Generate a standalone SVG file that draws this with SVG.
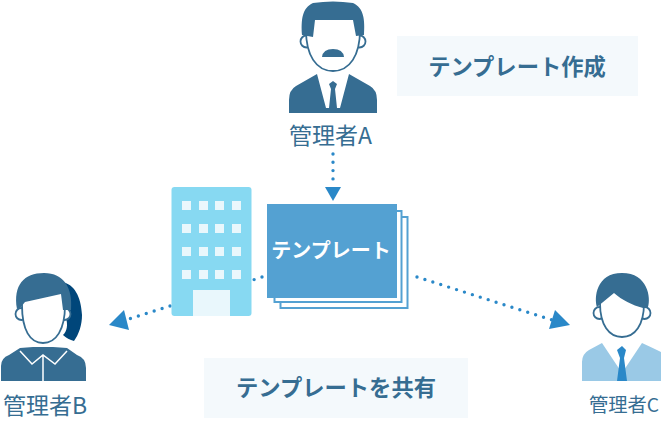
<svg xmlns="http://www.w3.org/2000/svg" width="661" height="421" viewBox="0 0 661 421">
<style>
.d{fill:#366d92}
.f{fill:#fff;stroke:#366d92;stroke-width:1.800}
.w{fill:#fff}
.n{font-family:"Noto Sans CJK JP","Noto Sans",sans-serif;fill:#366d92}
.l{font-family:"Noto Sans CJK JP","Noto Sans",sans-serif;font-weight:700;fill:#366d92;font-size:22.300px;text-anchor:middle}
.b{fill:#f4f9fc}
.c{fill:none;stroke:#2a88c8;stroke-width:3.400;stroke-linecap:round;stroke-dasharray:0 8.300}
.h{fill:#2a88c8}
.win{fill:#e9f7fc}
</style>
<g id="label-create"><rect class="b" x="397" y="36" width="241" height="60"/><text class="l" x="517" y="75">テンプレート作成</text></g>
<g id="label-share"><rect class="b" x="204" y="358" width="264" height="60"/><text class="l" x="336" y="396">テンプレートを共有</text></g>
<g id="connectors">
<path class="c" d="M333 154V186"/><path class="h" d="M325 187H341L333 201Z"/>
<path class="c" d="M262 277L253 280M170 306L129 319"/><path class="h" d="M109 325L124 310L129 330Z"/>
<path class="c" d="M417 277L552 320"/><path class="h" d="M570 325L555 310L549 329Z"/>
</g>
<g id="manager-a">
<path class="d" d="M317 74L296 86Q289 90 289 100V113H377V100Q377 90 370 86L349 74L340 108H326Z"/>
<path class="d" d="M329 84L333 81L337 84L335 89L337 108H329L331 89Z"/>
<circle class="f" cx="306.500" cy="41.500" r="6"/><circle class="f" cx="359.500" cy="41.500" r="6"/>
<path class="f" d="M306 30C306 55 316 71 333 71C350 71 360 55 360 30V15H306Z"/>
<path class="d" d="M313 37L302 35C301 20 302 8 313 3Q333 0 353 3C364 8 365 20 364 35L356 36L353 20H315Z"/>
<path class="d" d="M322 57Q323 49 333 49Q343 49 344 57Z"/>
<text class="n" x="289" y="144" font-size="23">管理者A</text>
</g>
<g id="building">
<rect x="171.500" y="187" width="80" height="129" rx="3" fill="#87d9f2"/>
<g class="win"><rect x="182" y="201" width="9" height="9"/><rect x="199" y="201" width="9" height="9"/><rect x="215" y="201" width="9" height="9"/><rect x="232" y="201" width="9" height="9"/>
<rect x="182" y="224" width="9" height="9"/><rect x="199" y="224" width="9" height="9"/><rect x="215" y="224" width="9" height="9"/><rect x="232" y="224" width="9" height="9"/>
<rect x="182" y="247" width="9" height="9"/><rect x="199" y="247" width="9" height="9"/><rect x="215" y="247" width="9" height="9"/><rect x="232" y="247" width="9" height="9"/>
<rect x="182" y="270" width="9" height="9"/><rect x="199" y="270" width="9" height="9"/><rect x="215" y="270" width="9" height="9"/><rect x="232" y="270" width="9" height="9"/>
<rect x="193" y="290" width="37" height="26"/></g>
</g>
<g id="template">
<rect x="280.500" y="217" width="127" height="91" fill="#fff" stroke="#54a1d2" stroke-width="2"/>
<rect x="274.500" y="211" width="127" height="91" fill="#fff" stroke="#54a1d2" stroke-width="2"/>
<rect x="267" y="204" width="130" height="94" fill="#54a1d2"/>
<text x="331" y="258" font-size="20" font-weight="700" text-anchor="middle" fill="#fff" font-family="'Noto Sans CJK JP',sans-serif">テンプレート</text>
</g>
<g id="manager-b">
<path d="M62 282C74 284 81 296 82 315C82 325 79 334 74 341C70 340 66 338 63 335C67 331 68 325 66 318L60 300Z" fill="#00467a"/>
<path class="d" d="M1 381V366Q1 358 9 355L20 348L33 347H53L67 348L77 355Q86 358 86 368V381Z"/>
<path d="M20 351L32 364L43 355L55 364L67 351M43 356V381" fill="none" stroke="#fff" stroke-width="1.500"/>
<circle class="f" cx="21.500" cy="314" r="6"/><circle class="f" cx="64.500" cy="314" r="6"/>
<path class="f" d="M22 305C22 330 30 343 43 343C56 343 65 330 65 305V290H22Z"/>
<path class="d" d="M20 308L17 309C13 285 24 273 44 273C64 273 73 288 71 310H63L61 294L25 302Z"/>
<text class="n" x="3" y="414" font-size="23">管理者B</text>
</g>
<g id="manager-c">
<path d="M602 343L589 350Q582 354 582 362V381H661V352Q655 349 642 343L622 373Z" fill="#9ac9e6"/>
<path class="h" d="M617 350L622 346L626 350L624 358L627 381H617L620 358Z"/>
<circle class="f" cx="599.500" cy="313" r="6"/><circle class="f" cx="644.500" cy="313" r="6"/>
<path class="f" d="M600 303C600 325 609 337 622 337C635 337 644 325 644 303V290H600Z"/>
<path class="d" d="M597 307C594 298 596 273 622 273C648 273 651 298 648 307L643 308C632 305 622 300 614 293Z"/>
<text class="n" x="589" y="412" font-size="19.300">管理者C</text>
</g>
</svg>
